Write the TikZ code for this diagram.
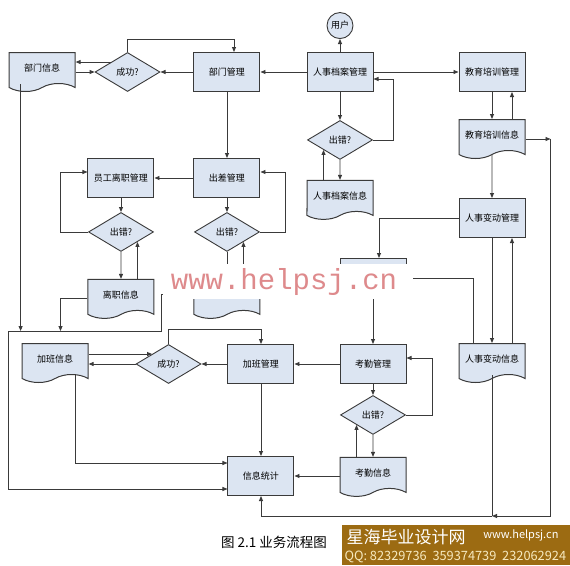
\documentclass[tikz,border=0pt]{standalone}
\usepackage{fontspec}
\setmainfont{Noto Sans CJK SC}
\newfontfamily\wmfont{Liberation Mono}
\usepackage{tikz}
\usetikzlibrary{shapes.geometric, shapes.symbols, arrows.meta, positioning, calc}
\definecolor{boxfill}{HTML}{DCE5F2}
\definecolor{edge}{HTML}{3A3A3A}
\definecolor{mark}{HTML}{DE8A8C}
\definecolor{banner}{HTML}{9C6B12}
\definecolor{cream}{HTML}{F6E9BF}

\begin{document}
\begin{tikzpicture}[
  x=1pt, y=1pt,
  node distance=20pt,
  lbl/.style={font=\fontsize{9}{10}\selectfont},
  box/.style={lbl, draw=edge, line width=1pt, fill=boxfill, minimum width=66pt, minimum height=39pt, inner sep=1pt},
  dia/.style={lbl, diamond, draw=edge, line width=0.9pt, fill=boxfill, minimum width=65pt, minimum height=39pt, inner sep=0pt},
  doc/.style={lbl, tape, tape bend top=none, tape bend bottom=in and out, tape bend height=8pt, draw=edge, line width=1pt, fill=boxfill, minimum width=66pt, minimum height=39pt, inner sep=1pt},
  term/.style={lbl, circle, draw=edge, line width=0.9pt, fill=boxfill, minimum size=26pt, inner sep=0pt},
  arr/.style={-{Triangle[length=5pt, width=4pt]}, line width=0.9pt, draw=edge},
  wire/.style={line width=0.9pt, draw=edge},
]
\useasboundingbox (-340,72) rectangle (230,-493);

% Top row
\node[box] (rsda) {人事档案管理};
\node[term, above=13pt of rsda] (user) {用户};
\node[box, left=46pt of rsda] (bmgl) {部门管理};
\node[dia, left=33pt of bmgl] (ok1) {成功?};
\node[doc, left=19pt of ok1, yshift=4pt] (bmxx) {部门信息};
\node[box, right=85pt of rsda] (jypx) {教育培训管理};

% Archive / training column
\node[dia, below=28pt of rsda] (err1) {出错?};
\node[doc, below=20pt of err1] (daxx) {人事档案信息};
\node[doc, below=27pt of jypx] (jyxx) {教育培训信息};
\node[box, below=106pt of jypx] (rsbd) {人事变动管理};
\node[doc, below=105pt of rsbd] (bdxx) {人事变动信息};

% Leave / business trip
\node[box, below=66pt of bmgl] (ccgl) {出差管理};
\node[box, left=39pt of ccgl] (lzgl) {员工离职管理};
\node[dia, below=14pt of lzgl] (err2) {出错?};
\node[dia, below=14pt of ccgl] (err3) {出错?};
\node[doc, below=27pt of err2] (lzxx) {离职信息};
\node[doc, below=27pt of err3] (ccxx) {};
\node[box, below left=20pt and 52pt of rsbd] (ddgl) {};

% Attendance / overtime
\node[box, below=46pt of ddgl] (kqgl) {考勤管理};
\node[dia, below=11pt of kqgl] (err4) {出错?};
\node[doc, below=22pt of err4] (kqxx) {考勤信息};
\node[box, left=45pt of kqgl] (jbgl) {加班管理};
\node[dia, left=26pt of jbgl] (ok2) {成功?};
\node[doc, left=47pt of ok2, yshift=5pt] (jbxx) {加班信息};
\node[box, below=72pt of jbgl] (tjxx) {信息统计};

% Arrows, top row
\draw[arr] (rsda) -- (user);
\draw[arr] (rsda) -- (bmgl);
\draw[arr] (rsda) -- (jypx);
\draw[arr] (bmgl) -- (ok1);
\draw[arr] (ok1.north west) -- (ok1.north west -| bmxx.east);
\draw[arr] (bmxx.east |- ok1.west) -- (ok1.west);
\draw[arr] (ok1.north) -- ++(0,13) -| ([xshift=7pt]bmgl.north);
\draw[arr] (bmgl) -- (ccgl);

% Arrows, archive
\draw[arr] (rsda) -- (err1);
\draw[arr] (err1.east) -- ++(20,0) |- ([yshift=-7pt]rsda.east);
\draw[arr] (err1) -- (daxx);
\draw[arr] (daxx.north -| err1.south west) -- (err1.south west);

% Arrows, training and change
\draw[arr] (jypx) -- (jyxx);
\draw[arr] ([xshift=20pt]jyxx.north) -- ([xshift=20pt]jypx.south);
\draw[arr] (jyxx) -- (rsbd);
\draw[arr] (rsbd) -- (bdxx);
\draw[arr] ([xshift=20pt]bdxx.north) -- ([xshift=20pt]rsbd.south);
\coordinate (edgeR) at ([xshift=25pt, yshift=-4pt]jyxx.east);
\coordinate (botR) at ([yshift=-20pt]tjxx.south -| bdxx.south);
\draw[arr] ([yshift=-4pt]jyxx.east) -- (edgeR);
\draw[arr] (edgeR) |- (botR);
\draw[wire] (bdxx.south) -- (botR);
\draw[arr] (botR) -| (tjxx.south);
\draw[arr] (rsbd.west) -| ([xshift=6pt]ddgl.north);
\draw[arr] ([xshift=-19pt]bdxx.north) |- (ddgl.east);
\draw[arr] (ddgl) -- (kqgl);

% Arrows, leave and trip
\draw[arr] (ccgl) -- (lzgl);
\draw[arr] (lzgl) -- (err2);
\draw[arr] (err2.west) -- ++(-28,0) |- ([yshift=6pt]lzgl.west);
\draw[arr] (err2) -- (lzxx);
\draw[arr] (lzxx.north -| err2.south east) -- (err2.south east);
\draw[arr] (ccgl) -- (err3);
\draw[arr] (err3.east) -- ++(26,0) |- ([yshift=6pt]ccgl.east);
\draw[arr] (err3) -- (ccxx);
\draw[arr] (ccxx.north -| err3.south east) -- (err3.south east);

% Collector line on the left
\coordinate (busL) at ([yshift=13pt]jbgl.north -| bmxx.west);
\coordinate (busR) at ([xshift=-32pt]ccxx.west |- busL);
\draw[arr] ([xshift=12pt]bmxx.south west) -- ([xshift=12pt]bmxx.south west |- busL);
\draw[arr] ([yshift=-4pt]lzxx.west) -| ([xshift=-27pt]lzxx.west |- busL);
\draw[arr] (ccxx.west) -| (busR) -- (busL) |- ([yshift=-13pt]tjxx.west);

% Arrows, attendance and overtime
\draw[arr] (kqgl) -- (jbgl);
\draw[arr] (kqgl) -- (err4);
\draw[arr] (err4.east) -- ++(26,0) |- ([yshift=6pt]kqgl.east);
\draw[arr] (err4) -- (kqxx);
\draw[arr] (kqxx.north -| err4.south west) -- (err4.south west);
\draw[arr] (kqxx.west |- tjxx.east) -- (tjxx.east);
\draw[arr] (jbgl) -- (ok2);
\draw[arr] (ok2.west) -- (ok2.west -| jbxx.east);
\draw[arr] (ok2.north west -| jbxx.east) -- (ok2.north west);
\draw[arr] (ok2.north) -- ++(0,15) -| (jbgl.north);
\draw[arr] ([xshift=-13pt]jbxx.south east) |- ([yshift=13pt]tjxx.west);
\draw[arr] (jbgl) -- (tjxx);

% Watermark
\fill[white] (-177,-192) rectangle (73,-227);
\node[text=mark, font=\wmfont\fontsize{29}{29}\selectfont] (wm) at (-56,-210) {www.helpsj.cn};

% Caption and banner
\node[font=\fontsize{13.5}{14}\selectfont] (cap) at (-66,-470) {图 2.1 业务流程图};
\fill[banner] (2,-453) rectangle (230,-493);
\node[anchor=west, text=white, font=\fontsize{17}{18}\selectfont] (site) at (3,-465) {星海毕业设计网};
\node[anchor=east, text=white, font=\fontsize{11}{12}\selectfont] (url) at (222,-463) {www.helpsj.cn};
\node[anchor=west, text=cream, font=\fontsize{12.8}{13}\selectfont] (qq) at (1,-485) {QQ: 82329736\ \ 359374739\ \ 232062924};
\end{tikzpicture}
\end{document}
